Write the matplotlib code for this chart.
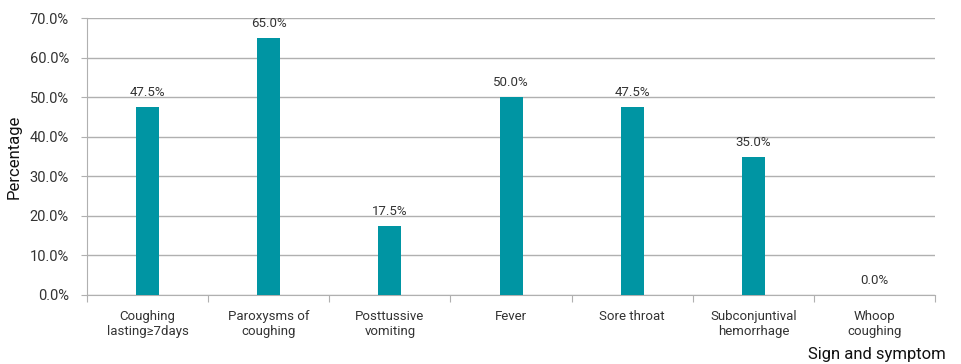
import numpy as np
import matplotlib.pyplot as plt

categories = ["Coughing\nlasting\u22657days", "Paroxysms of\ncoughing", "Posttussive\nvomiting",
              "Fever", "Sore throat", "Subconjuntival\nhemorrhage", "Whoop\ncoughing"]
values = [47.5, 65.0, 17.5, 50.0, 47.5, 35.0, 0.0]
yticks = [0, 10, 20, 30, 40, 50, 60, 70]

plt.rcParams['font.family'] = ['Roboto', 'DejaVu Sans']

fig = plt.figure(figsize=(9.61, 3.64), dpi=100)
ax = fig.add_axes([0.0905, 0.1896, 0.8825, 0.7609])

x = np.arange(len(categories))
ax.bar(x, values, width=0.19, color='#0095A3', zorder=3)
for xi, v in zip(x, values):
    ax.text(xi, v + 3.6, f"{v:.1f}%", ha='center', va='center', fontsize=9.5, color='#333333')

ax.set_xlim(-0.5, len(categories) - 0.5)
ax.set_ylim(0, 70)
ax.set_yticks(yticks)
ax.set_yticklabels([f"{t:.1f}%" for t in yticks], fontsize=10.5, color='#333333')
ax.yaxis.grid(True, color='#b0b0b0', linewidth=1, zorder=0)

# category boundaries as major ticks, labels on minor ticks
ax.set_xticks(np.arange(len(categories) + 1) - 0.5)
ax.set_xticklabels([])
ax.set_xticks(x, minor=True)
ax.set_xticklabels(categories, minor=True, fontsize=9.5, color='#333333')
ax.tick_params(axis='x', which='major', length=5, color='#b0b0b0')
ax.tick_params(axis='x', which='minor', length=0, pad=11)
ax.tick_params(axis='y', length=4, color='#b0b0b0', pad=9)

for s in ['top', 'right']:
    ax.spines[s].set_visible(False)
for s in ['left', 'bottom']:
    ax.spines[s].set_color('#b0b0b0')

ax.set_ylabel("Percentage", fontsize=12, color='#111111', labelpad=6)
fig.text(0.984, 0.027, "Sign and symptom", ha='right', va='center', fontsize=12, color='#111111')

plt.savefig("out.png")
